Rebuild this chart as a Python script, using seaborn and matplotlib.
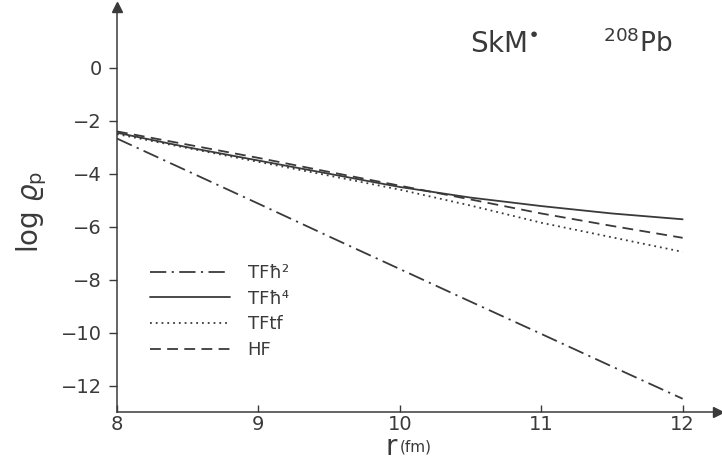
import numpy as np
import pandas as pd
import matplotlib
matplotlib.use("Agg")
import matplotlib.pyplot as plt
import seaborn as sns

# radius (fm)
r = [8.0, 8.5, 9.0, 9.5, 10.0, 10.5, 11.0, 11.5, 12.0]

# log rho_p
tf_h2 = [-2.67, -3.90, -5.13, -6.37, -7.60, -8.83, -10.05, -11.28, -12.50]
tf_h4 = [-2.45, -3.00, -3.50, -4.00, -4.50, -4.90, -5.22, -5.50, -5.72]
tf_tf = [-2.50, -3.03, -3.55, -4.07, -4.60, -5.20, -5.85, -6.40, -6.95]
hf = [-2.40, -2.90, -3.40, -3.93, -4.45, -4.97, -5.50, -5.97, -6.42]

labels = ["TFħ²", "TFħ⁴", "TFtf", "HF"]
x_ticks = [8, 9, 10, 11, 12]
y_ticks = [0, -2, -4, -6, -8, -10, -12]

df = pd.DataFrame({
    "r": r * 4,
    "logrho": tf_h2 + tf_h4 + tf_tf + hf,
    "model": sum([[lab] * len(r) for lab in labels], []),
})

sns.set_style("ticks")
plt.rcParams["font.family"] = ["DejaVu Sans"]
plt.rcParams["mathtext.fontset"] = "dejavusans"

ink = "#3a3a3a"
styles = {
    "TFħ²": (0, (9, 3, 1.2, 3)),
    "TFħ⁴": "-",
    "TFtf": (0, (1, 2.2)),
    "HF": (0, (6, 3.5)),
}

fig = plt.figure(figsize=(7.22, 4.68), dpi=100)
ax = fig.add_axes([117 / 722, 56 / 468, 601 / 722, 405 / 468])

for lab in labels:
    sub = df[df["model"] == lab]
    sns.lineplot(data=sub, x="r", y="logrho", ax=ax, color=ink,
                 linewidth=1.3, linestyle=styles[lab], label=lab)

ax.set_xlim(8, 12.25)
ax.set_ylim(-13, 2.3)
ax.set_xticks(x_ticks)
ax.set_yticks(y_ticks)
ax.set_yticklabels([str(v).replace("-", "\u2212") for v in y_ticks])
ax.tick_params(axis="y", direction="out", length=6, width=1, colors=ink,
               labelsize=14, pad=5)
ax.tick_params(axis="x", direction="in", length=5, width=1, colors=ink,
               labelsize=14, pad=2)
sns.despine(ax=ax)
for s in ["left", "bottom"]:
    ax.spines[s].set_color(ink)
    ax.spines[s].set_linewidth(1.1)

# axis arrows
ax.plot(1, 0, ">", color=ink, markersize=7, transform=ax.transAxes, clip_on=False)
ax.plot(0, 1, "^", color=ink, markersize=7, transform=ax.transAxes, clip_on=False)

ax.set_xlabel("")
ax.set_ylabel("")
fig.text(32 / 722, 1 - 212 / 468, r"log $\varrho_{\rm p}$", rotation=90,
         fontsize=20, color=ink, ha="center", va="center")
fig.text(397 / 722, 1 - 455 / 468, "r", fontsize=20, color=ink, ha="right", va="baseline")
fig.text(400 / 722, 1 - 452 / 468, "(fm)", fontsize=11, color=ink, ha="left", va="baseline")

fig.text(470 / 722, 1 - 52 / 468, r"SkM$^{\bullet}$", fontsize=20, color=ink, ha="left", va="baseline")
fig.text(603 / 722, 1 - 52 / 468, r"$^{208}$Pb", fontsize=19, color=ink, ha="left", va="baseline")

leg = ax.legend(loc="upper left", bbox_to_anchor=(0.028, 0.405), frameon=False,
                handlelength=4.4, handletextpad=1.0, labelspacing=0.42, fontsize=13)
for t in leg.get_texts():
    t.set_color(ink)

fig.savefig("out.png", dpi=100)
